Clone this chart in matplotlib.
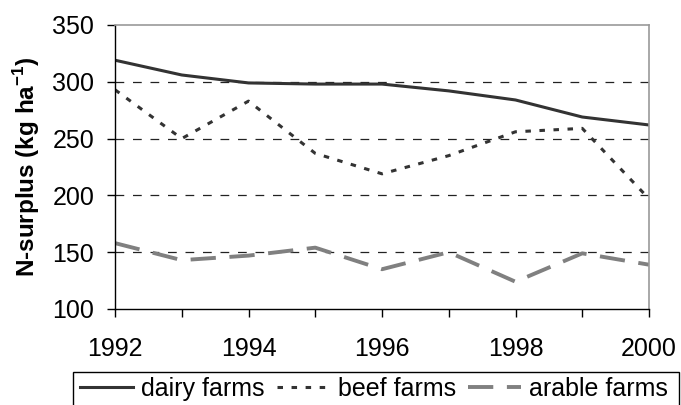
import matplotlib
matplotlib.use("Agg")
import matplotlib.pyplot as plt
from matplotlib.patches import Rectangle

years = [1992, 1993, 1994, 1995, 1996, 1997, 1998, 1999, 2000]
dairy = [319, 306, 299, 298, 298, 292, 284, 269, 262]
beef = [293, 250, 283, 237, 219, 235, 256, 259, 197]
arable = [158, 143, 147, 154, 135, 150, 124, 149, 139]
series_names = ["dairy farms", "beef farms", "arable farms"]
yticks = [100, 150, 200, 250, 300, 350]
xticks = [1992, 1994, 1996, 1998, 2000]

plt.rcParams['font.family'] = ['Liberation Sans', 'DejaVu Sans']
plt.rcParams['mathtext.fontset'] = 'custom'
plt.rcParams['mathtext.rm'] = 'Liberation Sans'
plt.rcParams['mathtext.bf'] = 'Liberation Sans:bold'

W, H = 681, 405
fig = plt.figure(figsize=(W/100, H/100), dpi=100)
L, R, T, B = 115, 649, 25, 309
ax = fig.add_axes([L/W, 1 - B/H, (R-L)/W, (B-T)/H])

ax.plot(years, dairy, color='#333333', lw=2.2, ls='-', label=series_names[0])
ax.plot(years, beef, color='#333333', lw=2.2, ls=(0, (1.8, 2.8)), label=series_names[1])
ax.plot(years, arable, color='#808080', lw=2.8, ls=(0, (6.5, 3.5)), label=series_names[2])

for v in yticks[1:-1]:
    ax.axhline(v, color='#222222', lw=0.9, ls=(0, (7, 7)), zorder=0)

ax.set_xlim(years[0], years[-1])
ax.set_ylim(yticks[0], yticks[-1])
ax.set_yticks(yticks)
ax.set_xticks(years)
ax.set_xticklabels([str(y) if y in xticks else '' for y in years])

ax.tick_params(axis='y', direction='out', length=6, width=1, pad=9, labelsize=18, colors='black')
ax.tick_params(axis='x', direction='out', length=6, width=1, pad=14, labelsize=18, colors='black')

for s in ['top', 'right']:
    ax.spines[s].set_color('#999999')
    ax.spines[s].set_linewidth(1.2)
for s in ['left', 'bottom']:
    ax.spines[s].set_color('black')
    ax.spines[s].set_linewidth(1.0)

fig.text(27/W, 1 - 167/H, r'N-surplus (kg ha$^{\mathbf{-1}}$)', rotation=90,
         ha='center', va='center', fontsize=17.5, fontweight='bold')

# legend frame (bottom edge lies outside the picture)
fig.patches.append(Rectangle((73/W, -10/H), (679-73)/W, (405-372+10)/H,
                             transform=fig.transFigure, fill=False,
                             edgecolor='black', lw=1.0))
leg = fig.legend(loc='upper left', bbox_to_anchor=(80/W, 1 - 377/H), ncol=3,
                 fontsize=18, handlelength=2.1, handletextpad=0.33, columnspacing=0.5,
                 borderpad=0, borderaxespad=0, frameon=False)

fig.savefig('out.png', dpi=100)
